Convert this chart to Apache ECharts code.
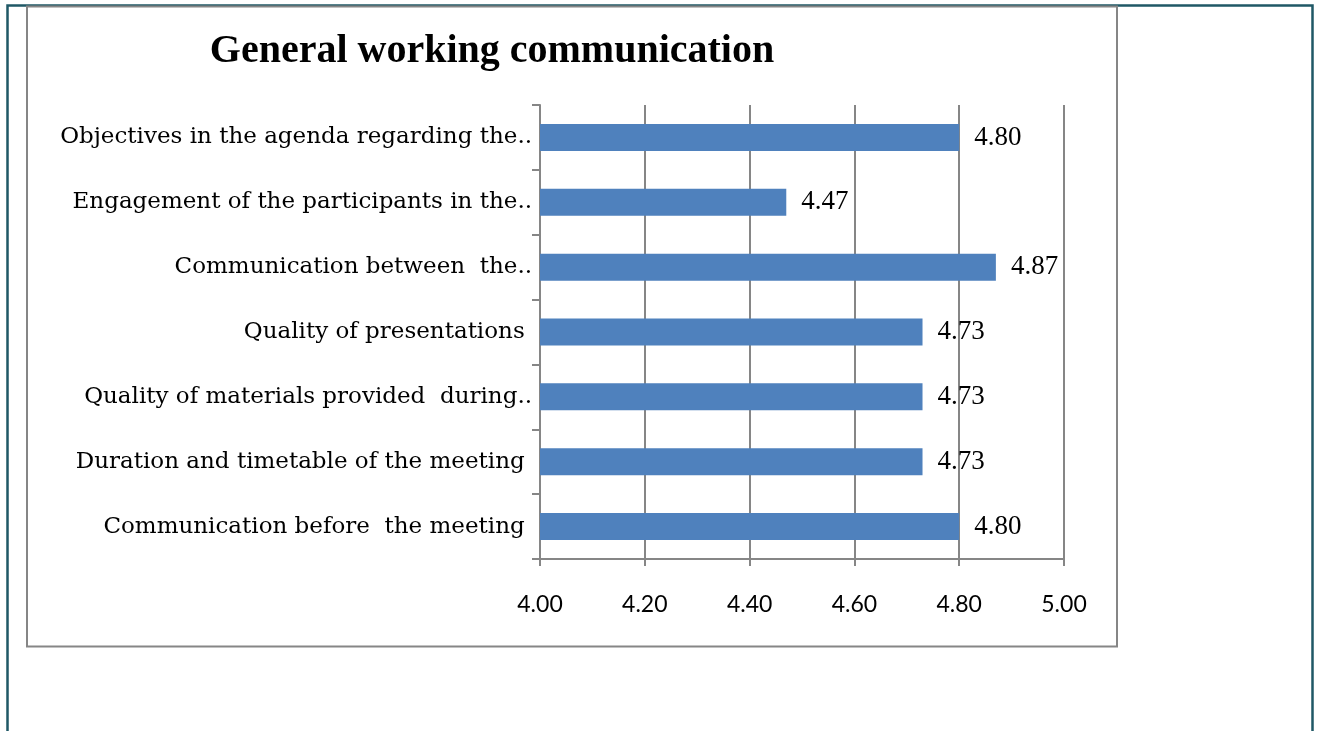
<!DOCTYPE html>
<html>
<head>
<meta charset="utf-8">
<script src="https://cdn.jsdelivr.net/npm/echarts@6/dist/echarts.min.js"></script>
<style>
  html, body { margin: 0; padding: 0; background: #fff; }
  #main { width: 1317px; height: 731px; }
</style>
</head>
<body>
<div id="main"></div>
<script>
// categories bottom -> top (category axis runs upward)
var categories = [
  'Communication before  the meeting ',
  'Duration and timetable of the meeting ',
  'Quality of materials provided  during..',
  'Quality of presentations ',
  'Communication between  the..',
  'Engagement of the participants in the..',
  'Objectives in the agenda regarding the..'
];
var scores = [4.80, 4.73, 4.73, 4.73, 4.87, 4.47, 4.80];
var xTicks = [4.0, 5.0, 0.2]; // min, max, step

var serif = '"Liberation Serif", serif';
var wideSerif = '"DejaVu Serif", serif';
var sans = 'Lato, "Liberation Sans", sans-serif';
var gray = '#868686';

var chart = echarts.init(document.getElementById('main'));
chart.setOption({
  animation: false,
  backgroundColor: '#fff',
  title: {
    text: 'General working communication',
    left: 487,
    top: 27,
    textAlign: 'center',
    textStyle: { fontFamily: serif, fontWeight: 'bold', fontSize: 40, color: '#000' }
  },
  graphic: [
    {
      type: 'polyline',
      shape: { points: [[7.5, 731], [7.5, 5.5], [1312.5, 5.5], [1312.5, 731]] },
      style: { stroke: '#1f5866', lineWidth: 2.5, fill: null },
      silent: true
    },
    {
      type: 'rect',
      shape: { x: 27, y: 6.5, width: 1090, height: 640 },
      style: { stroke: gray, lineWidth: 2, fill: null },
      silent: true
    }
  ],
  grid: { left: 540, top: 105, width: 524, height: 454 },
  xAxis: {
    type: 'value',
    min: xTicks[0],
    max: xTicks[1],
    interval: xTicks[2],
    axisLine: { show: true, lineStyle: { color: gray, width: 2 } },
    axisTick: { show: true, length: 7, lineStyle: { color: gray, width: 2 } },
    splitLine: { show: true, lineStyle: { color: gray, width: 2 } },
    axisLabel: {
      margin: 34,
      fontFamily: sans,
      fontSize: 23,
      color: '#000',
      formatter: function (v) { return v.toFixed(2); }
    }
  },
  yAxis: {
    type: 'category',
    data: categories,
    axisLine: { show: true, lineStyle: { color: gray, width: 2 } },
    axisTick: { show: true, length: 8, lineStyle: { color: gray, width: 2 } },
    axisLabel: {
      margin: 8,
      fontFamily: wideSerif,
      fontSize: 23,
      color: '#000'
    }
  },
  series: [{
    type: 'bar',
    data: scores,
    barWidth: 27,
    itemStyle: { color: '#4f81bd' },
    label: {
      show: true,
      position: 'right',
      distance: 15,
      fontFamily: serif,
      fontSize: 27,
      color: '#000',
      formatter: function (p) { return p.value.toFixed(2); }
    }
  }]
});
</script>
</body>
</html>
